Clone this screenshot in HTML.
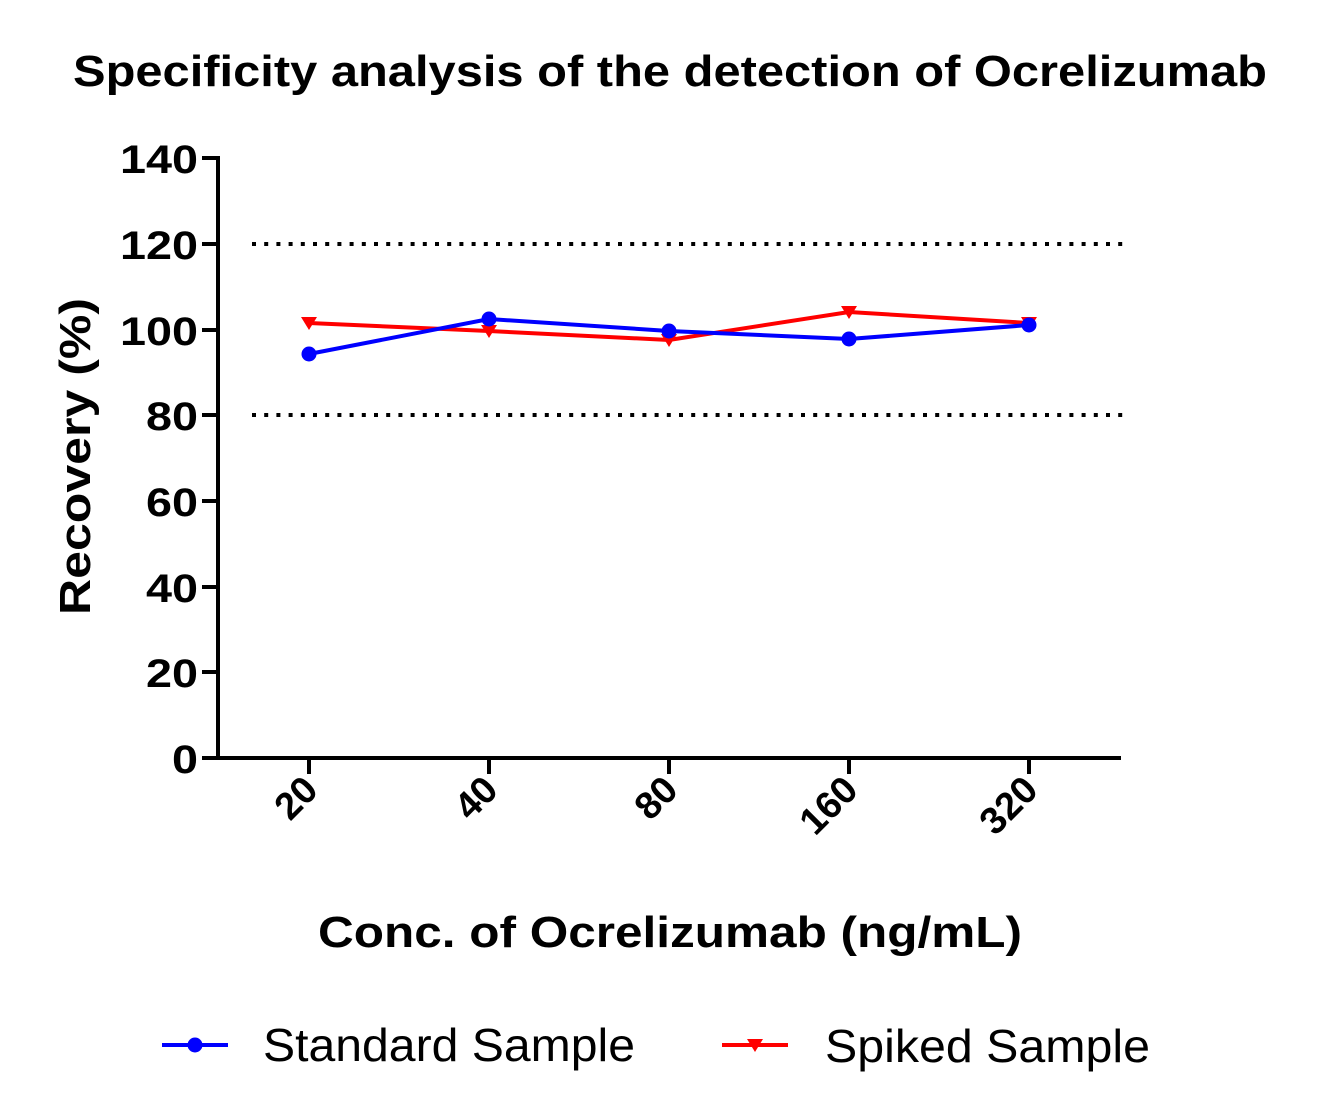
<!DOCTYPE html>
<html><head><meta charset="utf-8"><style>
body{margin:0;background:#fff;}
svg text{font-family:"Liberation Sans",Arial,sans-serif;}
</style></head><body>
<svg width="1328" height="1106" viewBox="0 0 1328 1106" xmlns="http://www.w3.org/2000/svg">
<rect width="1328" height="1106" fill="#fff"/>
<text x="73" y="86" font-size="44" font-weight="bold" textLength="1194" lengthAdjust="spacingAndGlyphs">Specificity analysis of the detection of Ocrelizumab</text>
<line x1="252" y1="244" x2="1125" y2="244" stroke="#000" stroke-width="4" stroke-dasharray="4 8.2"/>
<line x1="252" y1="415" x2="1125" y2="415" stroke="#000" stroke-width="4" stroke-dasharray="4 8.2"/>
<g stroke="#000" stroke-width="4" fill="none">
<line x1="218" y1="156" x2="218" y2="760"/>
<line x1="216" y1="758" x2="1121" y2="758"/>
<line x1="202" y1="158" x2="218" y2="158"/>
<line x1="202" y1="244" x2="218" y2="244"/>
<line x1="202" y1="330" x2="218" y2="330"/>
<line x1="202" y1="415" x2="218" y2="415"/>
<line x1="202" y1="501" x2="218" y2="501"/>
<line x1="202" y1="587" x2="218" y2="587"/>
<line x1="202" y1="672" x2="218" y2="672"/>
<line x1="202" y1="758" x2="218" y2="758"/>
<line x1="309" y1="758" x2="309" y2="774"/>
<line x1="489" y1="758" x2="489" y2="774"/>
<line x1="669" y1="758" x2="669" y2="774"/>
<line x1="849" y1="758" x2="849" y2="774"/>
<line x1="1029" y1="758" x2="1029" y2="774"/>
</g>
<g font-size="40" font-weight="bold">
<text x="120" y="173" textLength="78" lengthAdjust="spacingAndGlyphs">140</text>
<text x="120" y="259" textLength="78" lengthAdjust="spacingAndGlyphs">120</text>
<text x="120" y="345" textLength="78" lengthAdjust="spacingAndGlyphs">100</text>
<text x="146" y="430" textLength="52" lengthAdjust="spacingAndGlyphs">80</text>
<text x="146" y="516" textLength="52" lengthAdjust="spacingAndGlyphs">60</text>
<text x="146" y="602" textLength="52" lengthAdjust="spacingAndGlyphs">40</text>
<text x="146" y="687" textLength="52" lengthAdjust="spacingAndGlyphs">20</text>
<text x="172" y="773" textLength="26" lengthAdjust="spacingAndGlyphs">0</text>
</g>
<text transform="translate(90,615) rotate(-90)" font-size="44" font-weight="bold" textLength="317" lengthAdjust="spacingAndGlyphs">Recovery (%)</text>
<g font-size="38" font-weight="bold" text-anchor="end">
<text transform="translate(320,792) rotate(-45)">20</text>
<text transform="translate(500,792) rotate(-45)">40</text>
<text transform="translate(680,792) rotate(-45)">80</text>
<text transform="translate(860,792) rotate(-45)">160</text>
<text transform="translate(1040,792) rotate(-45)">320</text>
</g>
<text x="318" y="947" font-size="44" font-weight="bold" textLength="704" lengthAdjust="spacingAndGlyphs">Conc. of Ocrelizumab (ng/mL)</text>
<polyline points="309,323 489,331 669,340 849,312 1029,323" fill="none" stroke="#f00" stroke-width="4"/>
<g fill="#f00">
<polygon points="301,317 317,317 309,330"/>
<polygon points="481,325 497,325 489,338"/>
<polygon points="661,334 677,334 669,347"/>
<polygon points="841,306 857,306 849,319"/>
<polygon points="1021,317 1037,317 1029,330"/>
</g>
<polyline points="309,354 489,319 669,331 849,339 1029,325" fill="none" stroke="#00f" stroke-width="4"/>
<g fill="#00f">
<circle cx="309" cy="354" r="7.5"/>
<circle cx="489" cy="319" r="7.5"/>
<circle cx="669" cy="331" r="7.5"/>
<circle cx="849" cy="339" r="7.5"/>
<circle cx="1029" cy="325" r="7.5"/>
</g>
<line x1="162" y1="1045" x2="228" y2="1045" stroke="#00f" stroke-width="4"/>
<circle cx="195" cy="1045" r="7.5" fill="#00f"/>
<text x="263" y="1061" font-size="46" textLength="372" lengthAdjust="spacingAndGlyphs">Standard Sample</text>
<line x1="722" y1="1045" x2="788" y2="1045" stroke="#f00" stroke-width="4"/>
<polygon points="747,1039 763,1039 755,1052" fill="#f00"/>
<text x="825" y="1062" font-size="46" textLength="325" lengthAdjust="spacingAndGlyphs">Spiked Sample</text>
</svg>
</body></html>
